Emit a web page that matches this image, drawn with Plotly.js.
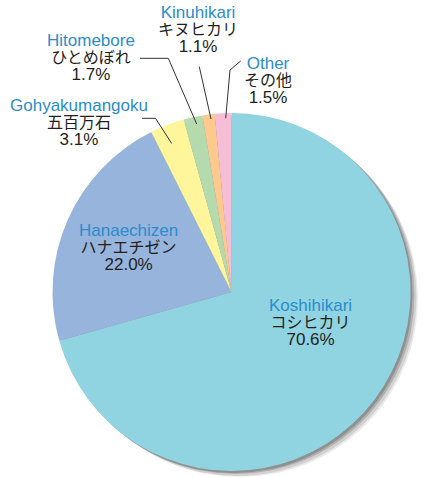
<!DOCTYPE html>
<html>
<head>
<meta charset="utf-8">
<script src="https://cdn.plot.ly/plotly-3.0.1.min.js"></script>
<style>html,body{margin:0;padding:0;background:#fff}#chart{width:423px;height:477px}</style>
</head>
<body>
<div id="chart"></div>
<script>
// ---- data ----
const namesEn = ["Koshihikari", "Hanaechizen", "Gohyakumangoku", "Hitomebore", "Kinuhikari", "Other"];
const namesJa = ["コシヒカリ", "ハナエチゼン", "五百万石", "ひとめぼれ", "キヌヒカリ", "その他"];
const shares = [70.6, 22.0, 3.1, 1.7, 1.1, 1.5];
const sliceColors = ["#90d4e2", "#96b4dc", "#fff59b", "#b5daad", "#fdc98d", "#f5bed6"];

// ---- layout helpers (pixel -> paper) ----
const W = 423, H = 477;
const px = x => x / W;
const py = y => 1 - y / H;

// label positions (pixel centre x, centre y of middle line)
const labelPos = [
  {x: 310, y: 322},
  {x: 128, y: 248},
  {x: 79,  y: 123},
  {x: 91,  y: 57.5},
  {x: 197.5, y: 29.5},
  {x: 267.5, y: 80}
];
// leader lines for small slices
const leaders = [
  [[142,118.3],[155.5,118.3],[171.7,143.5]],
  [[140,58.3],[168.3,58.3],[196.7,124]],
  [[199.3,66.7],[211,119]],
  [[240.7,61],[230,70],[225.7,118.3]]
];

const dom = {x: [px(52), px(411)], y: [py(471), py(113)]};
const shadowLayers = [
  {dx: 8, dy: 7, op: 0.10},
  {dx: 6, dy: 5, op: 0.15},
  {dx: 4, dy: 3, op: 0.22},
  {dx: 2, dy: 2, op: 0.28}
];
const traces = shadowLayers.map(s => ({
  type: "pie", values: [1], labels: ["shadow"], sort: false,
  marker: {colors: ["rgba(60,60,60," + s.op + ")"], line: {width: 0}},
  textinfo: "none", hoverinfo: "skip", showlegend: false,
  domain: {x: [px(52 + s.dx), px(411 + s.dx)], y: [py(471 + s.dy), py(113 + s.dy)]}
}));
traces.push({
  type: "pie",
  labels: namesEn,
  values: shares,
  sort: false,
  direction: "clockwise",
  rotation: 0,
  marker: {colors: sliceColors, line: {width: 0}},
  textinfo: "none",
  showlegend: false,
  domain: dom
});

// base font 13px -> Plotly line spacing 1.3em ≈ 17px, glyphs enlarged via spans
const annotations = labelPos.map((p, i) => ({
  xref: "paper", yref: "paper", x: px(p.x), y: py(p.y),
  xanchor: "center", yanchor: "middle", showarrow: false, borderpad: 0,
  font: {family: "Liberation Sans, Arial, sans-serif", size: 13, color: "#231f20"},
  text: '<span style="font-size:17px;color:#2c8ccc">' + namesEn[i] + '</span><br>' +
        '<span style="font-size:16px;font-family:Noto Sans CJK JP">' + namesJa[i] + '</span><br>' +
        '<span style="font-size:17px">' + shares[i].toFixed(1) + '%</span>'
}));

const shapes = leaders.map(pts => ({
  type: "path", xref: "paper", yref: "paper",
  path: pts.map((p, k) => (k ? "L" : "M") + px(p[0]) + "," + py(p[1])).join(" "),
  line: {color: "#333333", width: 1}
}));

Plotly.newPlot("chart", traces, {
  width: W, height: H,
  margin: {l: 0, r: 0, t: 0, b: 0},
  paper_bgcolor: "#ffffff",
  showlegend: false,
  annotations: annotations,
  shapes: shapes
}, {displayModeBar: false, staticPlot: true});
</script>
</body>
</html>
